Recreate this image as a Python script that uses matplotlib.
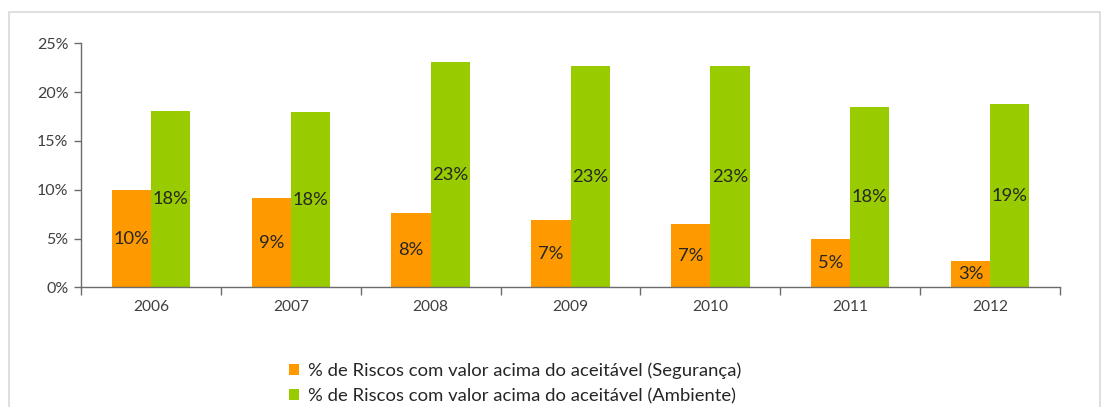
import matplotlib
matplotlib.use("Agg")
import matplotlib.pyplot as plt
import numpy as np
from matplotlib.patches import Rectangle, Patch

years = ["2006", "2007", "2008", "2009", "2010", "2011", "2012"]
seguranca = [10.0, 9.15, 7.6, 6.85, 6.5, 5.0, 2.7]
ambiente = [18.1, 17.95, 23.1, 22.7, 22.7, 18.45, 18.8]
seg_labels = ["10%", "9%", "8%", "7%", "7%", "5%", "3%"]
amb_labels = ["18%", "18%", "23%", "23%", "23%", "18%", "19%"]
yticks = [0, 5, 10, 15, 20, 25]
legend_labels = ["% de Riscos com valor acima do aceitável (Segurança)",
                 "% de Riscos com valor acima do aceitável (Ambiente)"]

ORANGE = "#FF9900"
GREEN = "#99CC00"
AXC = "#6b6b6b"
TXT = "#404040"

plt.rcParams['font.family'] = ['Lato', 'DejaVu Sans']

fig = plt.figure(figsize=(11.01, 4.07), dpi=100)
fig.patches.append(Rectangle((9/1101, -0.1), (1100-9)/1101, 1.1 - 12.5/407,
                             transform=fig.transFigure, fill=False,
                             edgecolor="#d9d9d9", linewidth=1.2, zorder=0))

ax = fig.add_axes([81/1101, 1-287.3/407, (1060-81)/1101, (287.3-43.3)/407])
x = np.arange(len(years))
w = 0.28
b1 = ax.bar(x - w/2, seguranca, w, color=ORANGE, linewidth=0)
b2 = ax.bar(x + w/2, ambiente, w, color=GREEN, linewidth=0)

for xi, v, lab in zip(x, seguranca, seg_labels):
    ax.text(xi - w/2, v/2, lab, ha="center", va="center", fontsize=13.2, color="#262626")
for xi, v, lab in zip(x, ambiente, amb_labels):
    ax.text(xi + w/2, v/2, lab, ha="center", va="center", fontsize=13.2, color="#262626")

ax.set_xlim(-0.5, len(years) - 0.5)
ax.set_ylim(0, 25)
ax.set_yticks(yticks)
ax.set_yticklabels([f"{t}%" for t in yticks])
ax.set_xticks(np.arange(-0.5, len(years), 1.0))
ax.set_xticklabels([])
ax.set_xticks(x, minor=True)
ax.set_xticklabels(years, minor=True)
ax.tick_params(axis="x", which="major", length=6, width=1, color=AXC, direction="out")
ax.tick_params(axis="x", which="minor", length=0, pad=9, labelsize=11.2, labelcolor=TXT)
ax.tick_params(axis="y", length=5, width=1, color=AXC, direction="out", labelsize=11.5,
               labelcolor=TXT, pad=4)
for s in ["top", "right"]:
    ax.spines[s].set_visible(False)
for s in ["left", "bottom"]:
    ax.spines[s].set_color(AXC)
    ax.spines[s].set_linewidth(1)

handles = [Patch(facecolor=ORANGE, edgecolor="none"), Patch(facecolor=GREEN, edgecolor="none")]
fig.legend(handles, legend_labels, loc="center", bbox_to_anchor=(515/1101, 1-383/407),
           frameon=False, fontsize=13.3, handlelength=0.55, handleheight=0.55,
           handletextpad=0.45, labelspacing=0.5, labelcolor="#262626")

fig.savefig("out.png", dpi=100)
